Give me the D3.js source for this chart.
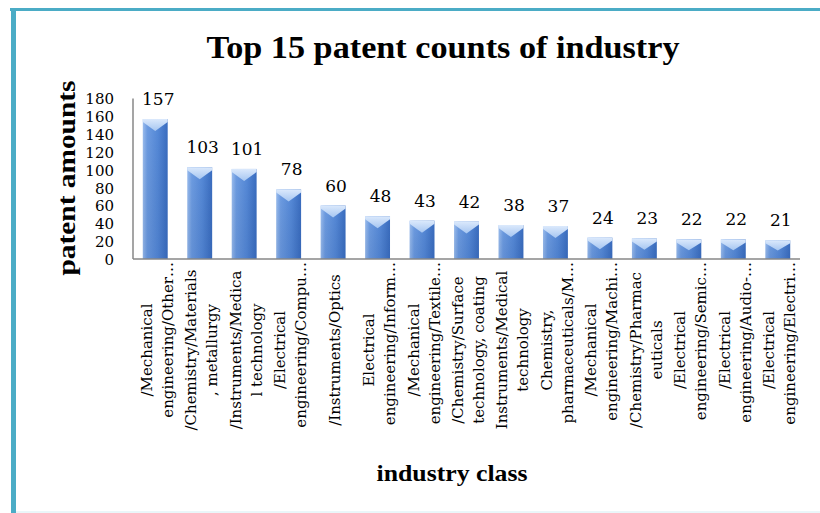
<!DOCTYPE html>
<html>
<head>
<meta charset="utf-8">
<script src="https://cdn.jsdelivr.net/npm/d3@7/dist/d3.min.js"></script>
<style>
  html, body { margin: 0; padding: 0; background: #ffffff; }
  svg { display: block; }
</style>
</head>
<body>
<svg id="chart" width="820" height="513"></svg>
<script>
const categories = [
  ["/Mechanical", "engineering/Other…"],
  ["/Chemistry/Materials", ", metallurgy"],
  ["/Instruments/Medica", "l technology"],
  ["/Electrical", "engineering/Compu…"],
  ["/Instruments/Optics"],
  ["Electrical", "engineering/Inform…"],
  ["/Mechanical", "engineering/Textile…"],
  ["/Chemistry/Surface", "technology, coating"],
  ["Instruments/Medical", "technology"],
  ["Chemistry,", "pharmaceuticals/M…"],
  ["/Mechanical", "engineering/Machi…"],
  ["/Chemistry/Pharmac", "euticals"],
  ["/Electrical", "engineering/Semic…"],
  ["/Electrical", "engineering/Audio-…"],
  ["/Electrical", "engineering/Electri…"]
];
const values = [157, 103, 101, 78, 60, 48, 43, 42, 38, 37, 24, 23, 22, 22, 21];
const yTicks = [0, 20, 40, 60, 80, 100, 120, 140, 160, 180];
const titleText = "Top 15 patent counts of industry";
const yTitle = "patent amounts";
const xTitle = "industry class";

const svg = d3.select("#chart");
const plotLeft = 133, plotRight = 800, plotTop = 98.5, plotBottom = 259;

// frame
svg.append("rect").attr("x", 10).attr("y", 8).attr("width", 810).attr("height", 3).attr("fill", "#4bacc6");
svg.append("rect").attr("x", 11).attr("y", 8).attr("width", 5).attr("height", 505).attr("fill", "#4bacc6");
svg.append("rect").attr("x", 16).attr("y", 511).attr("width", 804).attr("height", 2).attr("fill", "#eaf6f9");

const x = d3.scaleBand().domain(d3.range(values.length)).range([plotLeft, plotRight]).paddingInner(0.44).paddingOuter(0.22);
const y = d3.scaleLinear().domain([0, 180]).range([plotBottom, plotTop]);

const defs = svg.append("defs");
const g1 = defs.append("linearGradient").attr("id", "barGrad").attr("x1", "0").attr("x2", "1").attr("y1", "0").attr("y2", "0");
[["0%", "#9bbdee"], ["18%", "#6d9ce2"], ["60%", "#5589d8"], ["100%", "#3a6dc0"]].forEach(s => g1.append("stop").attr("offset", s[0]).attr("stop-color", s[1]));
const g2 = defs.append("linearGradient").attr("id", "capGrad").attr("x1", "0").attr("x2", "0").attr("y1", "0").attr("y2", "1");
[["0%", "#dbe9fc"], ["100%", "#a6c6f1"]].forEach(s => g2.append("stop").attr("offset", s[0]).attr("stop-color", s[1]));
const g3 = defs.append("linearGradient").attr("id", "shadeGrad").attr("x1", "0").attr("x2", "0").attr("y1", "0").attr("y2", "1");
[["0%", "#000", 0], ["100%", "#0b2a66", 0.1]].forEach(s => g3.append("stop").attr("offset", s[0]).attr("stop-color", s[1]).attr("stop-opacity", s[2]));

// bars
const bars = svg.append("g");
values.forEach((v, i) => {
  const x0 = x(i), w = x.bandwidth(), y0 = y(v), h = y(0) - y(v);
  bars.append("rect").attr("x", x0).attr("y", y0).attr("width", w).attr("height", h).attr("fill", "url(#barGrad)");
  bars.append("rect").attr("x", x0).attr("y", y0).attr("width", w).attr("height", h).attr("fill", "url(#shadeGrad)");
  const ch = Math.min(12, h * 0.55);
  const cx = x0 + w / 2;
  bars.append("polygon")
    .attr("points", [[x0, y0], [x0 + w, y0], [x0 + w, y0 + 3], [cx, y0 + ch], [x0, y0 + 3]].map(p => p.join(",")).join(" "))
    .attr("fill", "url(#capGrad)");
});

// axes
svg.append("line").attr("x1", plotLeft).attr("x2", plotLeft).attr("y1", plotTop).attr("y2", plotBottom).attr("stroke", "#878787").attr("stroke-width", 1.5);
svg.append("line").attr("x1", plotLeft).attr("x2", plotRight).attr("y1", plotBottom).attr("y2", plotBottom).attr("stroke", "#878787").attr("stroke-width", 1.5);

const yAxis = d3.axisLeft(y).tickValues(yTicks).tickSize(0).tickPadding(0);
const ya = svg.append("g").attr("transform", `translate(${plotLeft - 19},0)`).call(yAxis);
ya.select(".domain").remove();
ya.selectAll("text").attr("font-family", "'DejaVu Serif', serif").attr("font-size", 15).attr("fill", "#000").attr("dy", "0.36em");

// data labels
svg.append("g").selectAll("text").data(values).join("text")
  .attr("x", (d, i) => x(i) + x.bandwidth() / 2 + 3)
  .attr("y", d => y(d) - 14)
  .attr("text-anchor", "middle")
  .attr("font-family", "'DejaVu Serif', serif").attr("font-size", 17).attr("fill", "#000")
  .text(d => d);

// category labels
const lab = svg.append("g").attr("font-family", "'DejaVu Serif', serif").attr("font-size", 15).attr("fill", "#000");
categories.forEach((lines, i) => {
  const cx = x(i) + x.bandwidth() / 2 + 7;
  const n = lines.length;
  lines.forEach((t, j) => {
    const bx = cx + (j - (n - 1) / 2) * 21;
    const trunc = t.endsWith("…");
    lab.append("text")
      .attr("transform", `translate(${bx},${trunc ? 262 : 350}) rotate(-90)`)
      .attr("text-anchor", trunc ? "end" : "middle")
      .text(t);
  });
});

// titles
svg.append("text").attr("x", 443).attr("y", 58).attr("text-anchor", "middle")
  .attr("font-family", "'Liberation Serif', serif").attr("font-weight", "bold").attr("font-size", 32)
  .attr("textLength", 473).attr("lengthAdjust", "spacingAndGlyphs").text(titleText);
svg.append("text").attr("transform", "translate(75,178) rotate(-90)").attr("text-anchor", "middle")
  .attr("font-family", "'Liberation Serif', serif").attr("font-weight", "bold").attr("font-size", 26)
  .attr("textLength", 195).attr("lengthAdjust", "spacingAndGlyphs").text(yTitle);
svg.append("text").attr("x", 452).attr("y", 481).attr("text-anchor", "middle")
  .attr("font-family", "'Liberation Serif', serif").attr("font-weight", "bold").attr("font-size", 23)
  .attr("textLength", 151).attr("lengthAdjust", "spacingAndGlyphs").text(xTitle);
</script>
</body>
</html>
